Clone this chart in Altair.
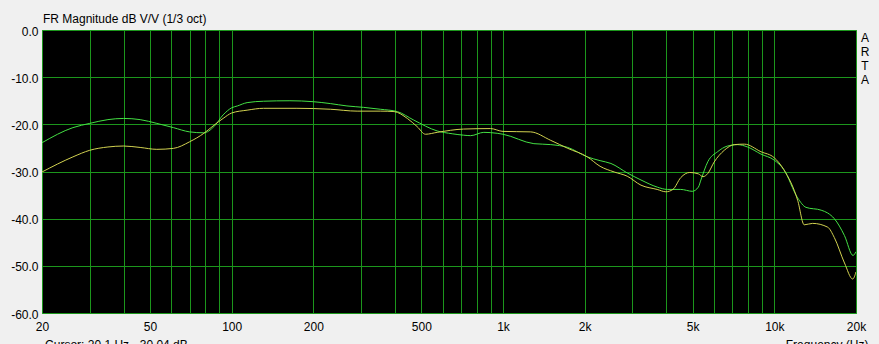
import altair as alt
import pandas as pd

# ---- data ----
green_f = [20, 26, 30, 35, 40, 46, 53, 61, 70, 79, 86, 93, 100, 105, 114, 131, 164, 200,
           231, 266, 306, 353, 408, 469, 572, 650, 716, 760, 850, 952, 1000, 1300, 1500,
           1734, 2046, 2280, 2500, 2870, 3226, 3700, 4037, 4520, 4985, 5250, 5363, 5690,
           6180, 6722, 7320, 7966, 8922, 10000, 10840, 12190, 13080, 14880, 15730, 16640,
           18140, 19500, 20000]
green_db = [-23.9, -20.7, -19.8, -19.0, -18.75, -19.0, -19.8, -20.7, -21.6, -21.8, -20.5,
            -18.0, -16.5, -16.1, -15.4, -15.1, -15.0, -15.2, -15.6, -16.1, -16.4, -16.8,
            -17.3, -19.1, -21.4, -22.0, -22.3, -22.4, -21.7, -21.9, -22.1, -24.1, -24.3,
            -24.9, -26.9, -27.7, -28.3, -30.3, -31.8, -33.3, -33.8, -33.8, -34.2, -33.3,
            -31.8, -27.9, -25.8, -24.6, -24.3, -24.8, -26.3, -27.6, -29.6, -35.6, -37.6,
            -38.2, -38.8, -40.0, -43.6, -47.8, -47.0]

yellow_f = [20, 26, 30, 35, 40, 46, 53, 61, 70, 79, 86, 93, 100, 114, 131, 174, 231, 290,
            353, 397, 444, 483, 518, 572, 716, 900, 1000, 1264, 1500, 1734, 2046, 2280,
            2570, 2870, 3226, 3700, 3985, 4230, 4520, 4880, 5250, 5460, 5690, 6000, 6540,
            7120, 7760, 8922, 10000, 10840, 12190, 12890, 13840, 15730, 16640, 18140,
            19450, 20000]
yellow_db = [-30.1, -26.9, -25.5, -24.8, -24.6, -24.9, -25.3, -25.1, -23.7, -21.9, -20.2,
             -18.75, -17.6, -17.0, -16.6, -16.6, -16.8, -17.2, -17.2, -17.3, -18.75,
             -20.5, -22.1, -21.7, -21.0, -20.9, -21.5, -21.6, -23.4, -25.1, -26.9, -28.9,
             -30.1, -31.0, -32.9, -33.8, -34.3, -33.8, -31.3, -30.2, -30.5, -31.1, -30.4,
             -28.0, -25.5, -24.3, -24.2, -25.8, -27.1, -29.6, -36.1, -41.3, -41.0, -41.8,
             -44.0, -49.4, -52.8, -51.3]

grid_freqs = [20, 30, 40, 50, 60, 70, 80, 90, 100, 200, 300, 400, 500, 600, 700, 800, 900,
              1000, 2000, 3000, 4000, 5000, 6000, 7000, 8000, 9000, 10000, 20000]
label_freqs = [20, 50, 100, 200, 500, 1000, 2000, 5000, 10000, 20000]
db_ticks = [0, -10, -20, -30, -40, -50, -60]

title_text = "FR Magnitude dB V/V (1/3 oct)"
side_letters = ["A", "R", "T", "A"]
bottom_left = "Cursor: 20.1 Hz, -30.04 dB"
bottom_right = "Frequency (Hz)"

GREEN = "#44e044"
YELLOW = "#d2d250"
GRID = "#1c961c"
FONT = "Liberation Sans"

W, H = 814, 283

df = pd.concat([
    pd.DataFrame({"f": green_f, "db": green_db, "s": "green", "o": range(len(green_f))}),
    pd.DataFrame({"f": yellow_f, "db": yellow_db, "s": "yellow", "o": range(len(yellow_f))}),
])

label_list = ",".join(str(v) for v in label_freqs)
x_label_expr = (
    f"indexof([{label_list}], datum.value) >= 0 ? "
    "(datum.value >= 1000 ? (datum.value/1000) + 'k' : '' + datum.value) : ''"
)

xscale = alt.Scale(type="log", domain=[20, 20000], nice=False)
yscale = alt.Scale(domain=[-60, 0], nice=False, zero=False)

lines = alt.Chart(df).mark_line(strokeWidth=1, interpolate="monotone", clip=True).encode(
    x=alt.X("f:Q", scale=xscale, axis=alt.Axis(
        values=grid_freqs, grid=True, gridColor=GRID, gridWidth=1, gridOpacity=1,
        domain=False, ticks=False, labelExpr=x_label_expr, labelOverlap=False,
        labelFlush=False, labelFont=FONT, labelFontSize=12, labelColor="#000000",
        labelPadding=8, title=None)),
    y=alt.Y("db:Q", scale=yscale, axis=alt.Axis(
        values=db_ticks, grid=True, gridColor=GRID, gridWidth=1, gridOpacity=1,
        domain=False, ticks=False,
        labelExpr="(datum.value < 0 ? '-' : '') + format(abs(datum.value), '.1f')",
        labelFont=FONT, labelFontSize=12, labelColor="#000000", labelPadding=4,
        labelOffset=1, title=None)),
    color=alt.Color("s:N", scale=alt.Scale(domain=["green", "yellow"], range=[GREEN, YELLOW]),
                    legend=None),
    order="o:Q",
    detail="s:N",
)

title = alt.Chart(pd.DataFrame({"t": [title_text]})).mark_text(
    align="left", baseline="middle", font=FONT, fontSize=12, color="#000000"
).encode(x=alt.value(1), y=alt.value(-11), text="t:N")

side = alt.Chart(pd.DataFrame({"t": side_letters, "i": list(range(len(side_letters)))})).mark_text(
    align="center", baseline="middle", font=FONT, fontSize=12, color="#000000"
).encode(
    x=alt.value(W + 9),
    y=alt.Y("i:Q", scale=alt.Scale(domain=[0, 3], range=[8, 50]), axis=None),
    text="t:N",
)

bottom = alt.Chart(pd.DataFrame({"t": [bottom_left, bottom_right],
                                 "x": [3, 731]})).mark_text(
    align="left", baseline="alphabetic", font=FONT, fontSize=12, color="#000000"
).encode(
    x=alt.X("x:Q", scale=alt.Scale(type="identity"), axis=None),
    y=alt.value(H + 36),
    text="t:N",
)

chart = alt.layer(lines, title, side, bottom).properties(
    width=W, height=H,
    background="#f0f0f0",
    padding={"left": 42, "top": 30, "right": 23, "bottom": 31},
    autosize=alt.AutoSizeParams(type="none"),
).resolve_scale(x="independent", y="independent").configure_view(
    fill="#000000", stroke="#2fbf2f", strokeWidth=1
)

chart.save("out.html", embed_options={"renderer": "svg", "actions": False})
